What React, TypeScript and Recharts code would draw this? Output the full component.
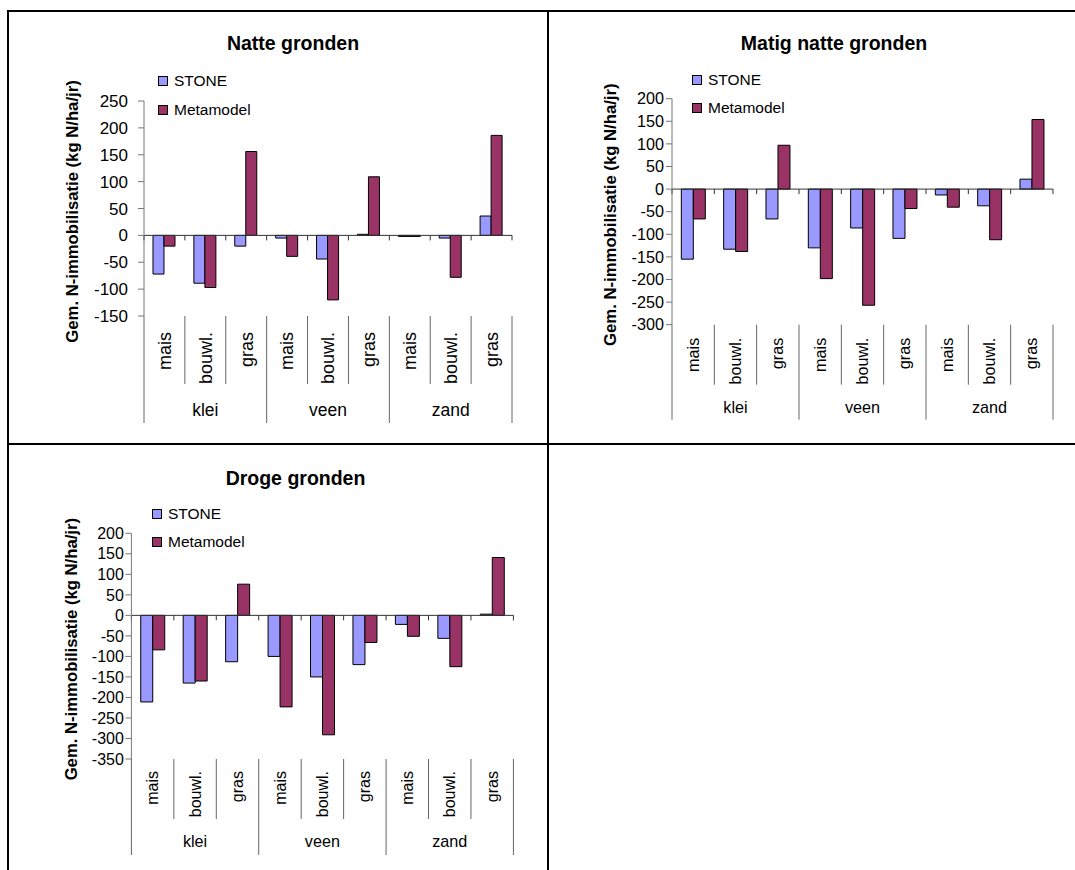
import React from 'react';
import { BarChart, Bar, XAxis, YAxis, ReferenceLine, Legend } from 'recharts';

const crops = ['mais', 'bouwl.', 'gras', 'mais', 'bouwl.', 'gras', 'mais', 'bouwl.', 'gras'];
const soils = ['klei', 'veen', 'zand'];
const seriesNames = ['STONE', 'Metamodel'];

// Natte gronden
const natteStone = [-72, -89, -20, -5, -44, 2, -2, -5, 36];
const natteMeta = [-20, -97, 156, -39, -120, 109, -2, -78, 186];
const natteTicks = [-150, -100, -50, 0, 50, 100, 150, 200, 250];

// Matig natte gronden
const matigStone = [-155, -133, -66, -130, -86, -109, -13, -37, 22];
const matigMeta = [-66, -138, 97, -198, -257, -43, -40, -112, 154];
const matigTicks = [-300, -250, -200, -150, -100, -50, 0, 50, 100, 150, 200];

// Droge gronden
const drogeStone = [-211, -165, -113, -100, -150, -120, -22, -56, 3];
const drogeMeta = [-84, -160, 76, -223, -291, -66, -51, -125, 141];
const drogeTicks = [-350, -300, -250, -200, -150, -100, -50, 0, 50, 100, 150, 200];

const STONE_COLOR = '#9999FF';
const META_COLOR = '#993366';
const FONT = '"Liberation Sans", Arial, Helvetica, sans-serif';
const Y_LABEL = 'Gem. N-immobilisatie (kg N/ha/jr)';

const buildRows = (stone: number[], meta: number[]) =>
  crops.map((crop, i) => ({ crop, soil: soils[Math.floor(i / 3)], stone: stone[i], meta: meta[i] }));

interface PanelCfg {
  title: string;
  rows: ReturnType<typeof buildRows>;
  ticks: number[];
  left: number;
  top: number;
  width: number;
  height: number;
  margin: { top: number; right: number; bottom: number; left: number };
  xAxisHeight: number;
  tickFont: number;
  tickMargin: number;
  catFont: number;
  catTop: number;
  shortLen: number;
  longLen: number;
  groupBase: number;
  groupFont: number;
  legendLeft: number;
  legendTop: number;
  legendRow: number;
  yLabelX: number;
}

const Y_AXIS_W = 60;

const panels: PanelCfg[] = [
  {
    title: 'Natte gronden',
    rows: buildRows(natteStone, natteMeta),
    ticks: natteTicks,
    left: 0,
    top: 0,
    width: 547,
    height: 443,
    margin: { top: 101, right: 35, bottom: 10, left: 84 },
    xAxisHeight: 117,
    tickFont: 17,
    tickMargin: 10,
    catFont: 18,
    catTop: 16,
    shortLen: 68,
    longLen: 107,
    groupBase: 100,
    groupFont: 17.5,
    legendLeft: 158,
    legendTop: 66.5,
    legendRow: 29,
    yLabelX: 72,
  },
  {
    title: 'Matig natte gronden',
    rows: buildRows(matigStone, matigMeta),
    ticks: matigTicks,
    left: 549,
    top: 0,
    width: 526,
    height: 443,
    margin: { top: 98.7, right: 22, bottom: 10, left: 63 },
    xAxisHeight: 108.3,
    tickFont: 16.2,
    tickMargin: 2,
    catFont: 16.2,
    catTop: 13,
    shortLen: 60,
    longLen: 95,
    groupBase: 88,
    groupFont: 16.2,
    legendLeft: 143,
    legendTop: 66,
    legendRow: 28,
    yLabelX: 62,
  },
  {
    title: 'Droge gronden',
    rows: buildRows(drogeStone, drogeMeta),
    ticks: drogeTicks,
    left: 0,
    top: 445,
    width: 547,
    height: 425,
    margin: { top: 88.3, right: 33.6, bottom: 5, left: 71.4 },
    xAxisHeight: 106,
    tickFont: 16,
    tickMargin: 1.5,
    catFont: 16,
    catTop: 12,
    shortLen: 60,
    longLen: 96,
    groupBase: 88,
    groupFont: 16.2,
    legendLeft: 152,
    legendTop: 54.25,
    legendRow: 28.5,
    yLabelX: 71.3,
  },
];

const titles = [
  { text: 'Natte gronden', x: 293, y: 50 },
  { text: 'Matig natte gronden', x: 834, y: 50 },
  { text: 'Droge gronden', x: 295.5, y: 485 },
];

function CropTick(props: any) {
  const { x, y, index, band, cfg } = props;
  const left = x - band / 2;
  const right = x + band / 2;
  const groupStart = index % 3 === 0;
  return (
    <g>
      <line x1={left} x2={left} y1={y} y2={y + (groupStart ? cfg.longLen : cfg.shortLen)} stroke="#666" />
      {index === crops.length - 1 && (
        <line x1={right} x2={right} y1={y} y2={y + cfg.longLen} stroke="#666" />
      )}
      <text
        x={x}
        y={y + cfg.catTop}
        transform={`rotate(-90 ${x} ${y + cfg.catTop})`}
        textAnchor="end"
        dy="0.35em"
        fontSize={cfg.catFont}
        fill="#000"
      >
        {crops[index]}
      </text>
      {index % 3 === 1 && (
        <text x={x} y={y + cfg.groupBase} textAnchor="middle" fontSize={cfg.groupFont} fill="#000">
          {soils[Math.floor(index / 3)]}
        </text>
      )}
    </g>
  );
}

const zeroAxis = (n: number) => (p: any) => {
  const { x1, x2, y1 } = p;
  const step = (x2 - x1) / n;
  return (
    <g>
      <line x1={x1} x2={x2} y1={y1} y2={y1} stroke="#333" />
      {crops.concat(['']).map((_, i) => (
        <line key={i} x1={x1 + i * step} x2={x1 + i * step} y1={y1} y2={y1 + 5} stroke="#333" />
      ))}
    </g>
  );
};

const legendContent = (rowH: number) => (props: any) => {
  const items = [...(props.payload || [])].sort(
    (a: any, b: any) => seriesNames.indexOf(a.value) - seriesNames.indexOf(b.value),
  );
  return (
    <div style={{ fontSize: 15.5, fontFamily: FONT, color: '#000' }}>
      {items.map((item: any) => (
        <div key={item.value} style={{ display: 'flex', alignItems: 'center', height: rowH, whiteSpace: 'nowrap' }}>
          <span
            style={{
              display: 'inline-block',
              width: 10,
              height: 10,
              boxSizing: 'border-box',
              border: '1px solid #000',
              background: item.color ?? item.payload?.fill,
              marginRight: 6,
            }}
          />
          <span>{item.value}</span>
        </div>
      ))}
    </div>
  );
};

function Panel({ cfg }: { cfg: PanelCfg }) {
  const plotW = cfg.width - cfg.margin.left - cfg.margin.right - Y_AXIS_W;
  const band = plotW / crops.length;
  const domain = [cfg.ticks[0], cfg.ticks[cfg.ticks.length - 1]];
  return (
    <div style={{ position: 'absolute', left: cfg.left, top: cfg.top, width: cfg.width, height: cfg.height }}>
      <BarChart
        width={cfg.width}
        height={cfg.height}
        data={cfg.rows}
        margin={cfg.margin}
        barGap={0}
        barCategoryGap="22%"
      >
        <XAxis
          dataKey="crop"
          interval={0}
          axisLine={false}
          tickLine={false}
          tickSize={0}
          tickMargin={0}
          height={cfg.xAxisHeight}
          tick={<CropTick band={band} cfg={cfg} />}
        />
        <YAxis
          width={Y_AXIS_W}
          domain={domain}
          ticks={cfg.ticks}
          interval={0}
          allowDataOverflow
          stroke="#777"
          tickSize={6}
          tickMargin={cfg.tickMargin}
          tick={{ fill: '#000', fontSize: cfg.tickFont }}
          label={{
            content: (p: any) => {
              const vb = p.viewBox || {};
              const cy = vb.y + vb.height / 2 + 3;
              return (
                <text
                  x={cfg.yLabelX}
                  y={cy}
                  transform={`rotate(-90 ${cfg.yLabelX} ${cy})`}
                  textAnchor="middle"
                  dominantBaseline="central"
                  fontWeight="bold"
                  fontSize={16.7}
                  fill="#000"
                >
                  {Y_LABEL}
                </text>
              );
            },
          }}
        />
        <Legend
          layout="vertical"
          align="center"
          verticalAlign="middle"
          wrapperStyle={{ left: cfg.legendLeft, top: cfg.legendTop, width: 'auto', height: 'auto' }}
          content={legendContent(cfg.legendRow)}
        />
        <Bar dataKey="stone" name={seriesNames[0]} fill={STONE_COLOR} stroke="#000" strokeWidth={1} isAnimationActive={false} />
        <Bar dataKey="meta" name={seriesNames[1]} fill={META_COLOR} stroke="#000" strokeWidth={1} isAnimationActive={false} />
        <ReferenceLine y={0} shape={zeroAxis(crops.length)} />
      </BarChart>
    </div>
  );
}

export default function App() {
  return (
    <div
      style={{
        position: 'absolute',
        left: 0,
        top: 0,
        width: 1075,
        height: 870,
        background: '#fff',
        fontFamily: FONT,
        overflow: 'hidden',
      }}
    >
      {panels.map((cfg) => (
        <Panel key={cfg.title} cfg={cfg} />
      ))}
      <svg
        width={1075}
        height={870}
        style={{ position: 'absolute', left: 0, top: 0, pointerEvents: 'none' }}
      >
        <line x1={8} x2={1075} y1={11} y2={11} stroke="#000" strokeWidth={2} />
        <line x1={8} x2={8} y1={10} y2={870} stroke="#000" strokeWidth={2} />
        <line x1={548} x2={548} y1={10} y2={870} stroke="#000" strokeWidth={2} />
        <line x1={7} x2={1075} y1={444} y2={444} stroke="#000" strokeWidth={2} />
        {titles.map((t) => (
          <text key={t.text} x={t.x} y={t.y} textAnchor="middle" fontWeight="bold" fontSize={19.5} fontFamily={FONT}>
            {t.text}
          </text>
        ))}
      </svg>
    </div>
  );
}
